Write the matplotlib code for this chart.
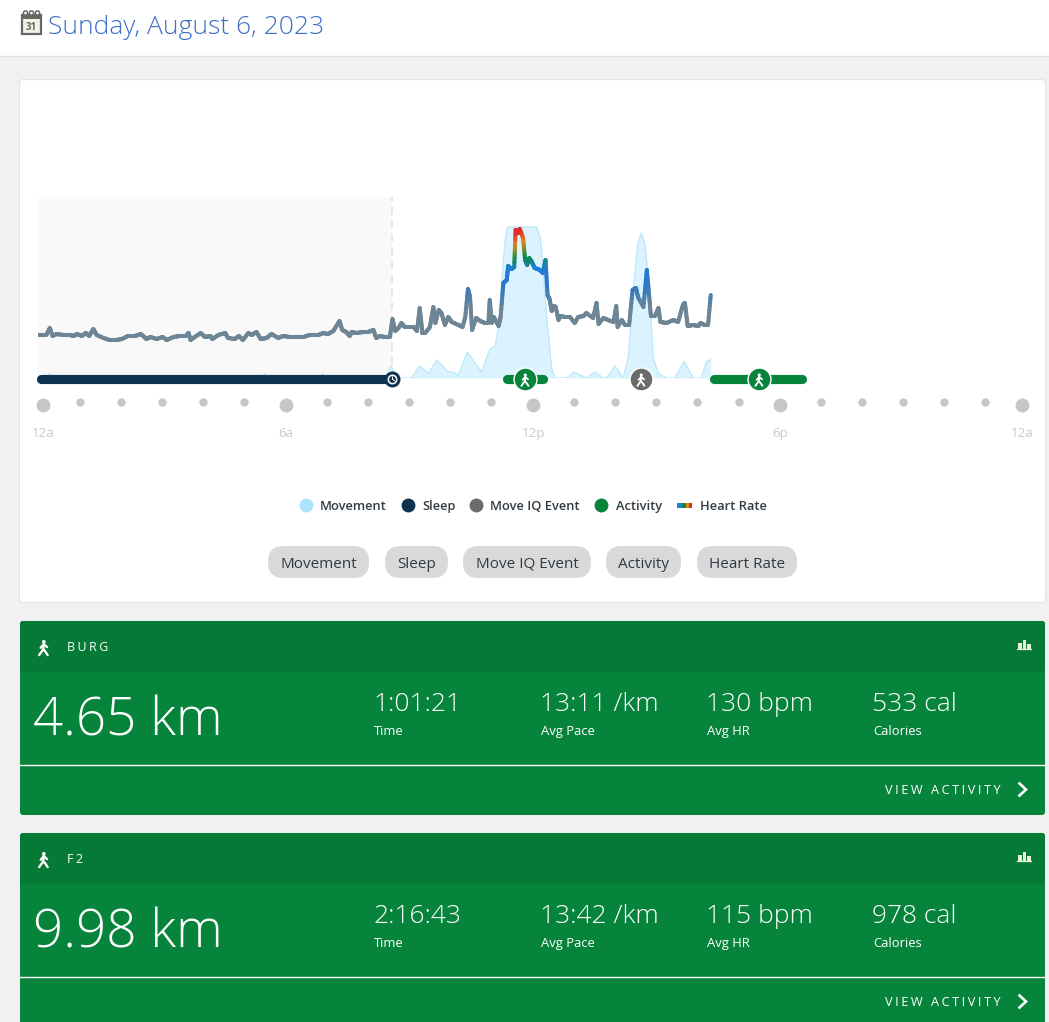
import numpy as np
import matplotlib
matplotlib.use("Agg")
import matplotlib.pyplot as plt
from matplotlib.collections import LineCollection
from matplotlib.colors import LinearSegmentedColormap, Normalize
from matplotlib.patches import FancyBboxPatch, Rectangle, Circle

plt.rcParams['font.family'] = ['Open Sans', 'DejaVu Sans']

# ---------- data ----------
# minutes after midnight and heart rate in bpm
hr_minutes = [-7,5,10,14,20,30,40,45,50,57,63,68,74,79,89,98,108,116,125,135,144,152,158,167,176,182,192,201,210,214,217,223,232,238,246,249,258,268,272,282,288,294,302,307,314,320,329,336,346,353,363,373,383,392,405,412,419,427,436,440,446,451,454,461,471,478,486,490,495,503,
              510,514,518,524,527,532,540,545,550,554,558,562,569,574,577,582,586,591,596,601,611,617,621,625,628,631,637,643,650,655,657,660,663,670,673,677,682,684,689,693,695,699,701,706,709,712,715,719,723,731,735,739,742,745,748,751,754,758,760,768,775,782,787,795,799,809,814,817,824,831,839,843,845,851,856,862,867,872,875,883,888,891,894,900,905,908,917,927,934,941,944,948,956,964,967,973,978,982]
hr_bpm = [59,59,66,58,60,59,59,58,60,58,61,58,65,59,56,54,54,55,58,58,60,55,57,55,57,54,57,58,58,61,54,57,61,57,58,55,59,61,56,55,58,54,61,59,62,55,56,60,56,58,57,57,57,59,59,61,60,63,73,64,62,58,62,61,62,62,64,56,58,57,
          57,75,63,67,71,67,67,67,63,86,61,61,67,87,71,84,81,69,77,72,69,67,77,105,97,64,76,73,71,71,94,71,77,68,77,111,114,128,125,127,164,161,165,156,134,129,136,132,126,124,121,134,99,95,83,88,87,74,78,77,77,71,77,78,81,76,91,70,76,74,72,88,67,74,69,69,104,106,97,87,124,101,78,78,86,72,71,74,72,89,91,68,69,68,71,69,69,99]

move_minutes = [-7,6,10,14,322,326,330,407,411,415,505,512,520,542,554,567,579,596,603,611,624,645,657,665,670,677,680,682,684,726,728,731,733,737,741,748,753,770,781,799,812,824,831,841,853,861,866,870,875,880,885,890,894,897,905,917,929,943,956,968,976,982]
move_pct = [0,0,3,0,0,3,0,0,3,0,0,8,0,0,8,3,12,4,4,2,17,4,19,21,34,78,92,98,100,100,97,93,85,62,39,6,0,0,4,0,4,0,1,8,0,14,45,67,89,96,89,67,40,14,3,0,0,11,0,0,11,12]

sleep_span = (-3, 513)
activity_spans = [(682, 735), (987, 1116)]
activity_icons = [709, 1053]
moveiq_minutes = [879]

tick_minutes = [0, 357, 721, 1084, 1440]
tick_labels = ['12a', '6a', '12p', '6p', '12a']
minor_minutes = [54,115,175,236,296,417,478,538,599,659,781,841,902,962,1023,1144,1204,1264,1325,1385]

legend_names = ['Movement', 'Sleep', 'Move IQ Event', 'Activity', 'Heart Rate']
legend_colors = ['#ade3fb', '#0e3350', '#6b6b6b', '#07843c', None]

activity_names = ['BURG', 'F2']
distances = ['4.65 km', '9.98 km']
times = ['1:01:21', '2:16:43']
paces = ['13:11 /km', '13:42 /km']
heart_rates = ['130 bpm', '115 bpm']
calories = ['533 cal', '978 cal']
stat_labels = ['Time', 'Avg Pace', 'Avg HR', 'Calories']

# ---------- figure / page ----------
W, H = 1049, 1022
fig = plt.figure(figsize=(W/100, H/100), dpi=100, facecolor='#f1f1f1')
page = fig.add_axes([0, 0, 1, 1], zorder=0)
page.set_xlim(0, W); page.set_ylim(H, 0); page.axis('off')

page.add_patch(Rectangle((0, 0), W, 56, fc='white', ec='none'))
page.plot([0, W], [56.5, 56.5], color='#e2e2e2', lw=1)
page.add_patch(FancyBboxPatch((19.5, 79.5), 1026, 523, boxstyle='round,pad=0,rounding_size=4',
                              fc='white', ec='#e4e4e4', lw=0.8))

def walker(ax, cx, cy, s, color, z=8):
    ax.add_patch(Circle((cx + 0.3*s, cy - 5.6*s), 1.7*s, fc=color, ec='none', zorder=z))
    kw = dict(color=color, lw=1.5*s, solid_capstyle='round', zorder=z)
    ax.plot([cx + 0.2*s, cx - 0.2*s], [cy - 3.5*s, cy + 1.2*s], **kw)
    ax.plot([cx - 0.2*s, cx - 4*s], [cy + 1.2*s, cy + 6.5*s], **kw)
    ax.plot([cx - 0.2*s, cx + 1.5*s, cx + 3.8*s], [cy + 1.2*s, cy + 3*s, cy + 6.5*s], **kw)
    ax.plot([cx - 2.6*s, cx + 0.2*s, cx + 3.3*s], [cy - 0.2*s, cy - 3.5*s, cy - 0.8*s], **kw)

# title with calendar icon
page.add_patch(Rectangle((22, 15), 18.5, 19, fc='#f4f1ea', ec='#6a6660', lw=1.6))
page.add_patch(Rectangle((22, 15), 18.5, 4.5, fc='#6a6660', ec='none'))
for cxi in (25.5, 31.5, 37.5):
    page.add_patch(Circle((cxi, 13), 2.1, fc='white', ec='#6a6660', lw=1.1))
page.text(31.2, 27, '31', fontsize=7, weight='bold', color='#6a6660', ha='center', va='center')
page.text(48, 33.5, 'Sunday, August 6, 2023', fontsize=19, weight='light', color='#3c6fc6',
          ha='left', va='baseline')

# ---------- chart ----------
PX_MIN = 0.68
x0, x1, y0, y1 = 38, 1040, 197, 378
chart_m = fig.add_axes([x0/W, 1 - y1/H, (x1 - x0)/W, (y1 - y0)/H], zorder=1)
chart_m.set_xlim((x0 - 43)/PX_MIN, (x1 - 43)/PX_MIN)
chart_m.set_ylim(0, (y1 - y0)/1.51)
chart_m.axis('off')
chart_m.axvspan(-7, sleep_span[1], color='#f9f9f9', lw=0, zorder=0)
chart_m.axvline(sleep_span[1], color='#e6e6e6', lw=1.4, ls=(0, (4, 3)), zorder=1)
chart_m.fill_between(move_minutes, move_pct, color='#dbf3fe', lw=0, zorder=2)
chart_m.plot(move_minutes, move_pct, color='#bde8fb', lw=1, zorder=3)

chart = fig.add_axes(chart_m.get_position(), zorder=2)
chart.patch.set_alpha(0)
chart.set_xlim(chart_m.get_xlim())
chart.set_ylim(394 - y1, 394 - y0)
for s in chart.spines.values():
    s.set_visible(False)
chart.set_yticks([])
chart.set_xticks(tick_minutes, tick_labels)
chart.tick_params(axis='x', length=0, pad=35, labelsize=9.6, labelcolor='#c9c9c9')

# heart-rate line, coloured by value
hr_cmap = LinearSegmentedColormap.from_list('hr', [
    (0.0, '#6d8594'), (0.30, '#6d8594'), (0.50, '#2a78c8'), (0.63, '#1f7ed8'), (0.72, '#0b8c45'),
    (0.84, '#e58a17'), (0.94, '#e0282a'), (1.0, '#e0282a')])
hx = np.asarray(hr_minutes, float); hy = np.asarray(hr_bpm, float)
# subdivide only so the colour blends along each steep stroke
fine = np.linspace(0, len(hx) - 1, (len(hx) - 1)*8 + 1)
fx = np.interp(fine, np.arange(len(hx)), hx)
fy = np.interp(fine, np.arange(len(hy)), hy)
segs = np.stack([np.c_[fx[:-1], fy[:-1]], np.c_[fx[1:], fy[1:]]], axis=1)
lc = LineCollection(segs, cmap=hr_cmap, norm=Normalize(50, 170), linewidths=2.9,
                    capstyle='round', zorder=4)
lc.set_array((fy[:-1] + fy[1:])/2)
chart.add_collection(lc)

# ticks as dots
BAR_Y = 15
chart.plot(tick_minutes, [394 - 405]*5, 'o', ms=10, color='#c6c6c6', mew=0, clip_on=False)
chart.plot(minor_minutes, [394 - 402]*len(minor_minutes), 'o', ms=6, color='#c6c6c6', mew=0, clip_on=False)

# sleep and activity bars
chart.plot(sleep_span, [BAR_Y, BAR_Y], color='#0e3350', lw=6.6, solid_capstyle='round', clip_on=False, zorder=5)
chart.plot([sleep_span[1]], [BAR_Y], 'o', ms=11.5, color='#0e3350', mew=0, clip_on=False, zorder=6)
for a, b in activity_spans:
    chart.plot([a, b], [BAR_Y, BAR_Y], color='#07843c', lw=6.6, solid_capstyle='round', clip_on=False, zorder=5)
for h in activity_icons:
    chart.plot([h], [BAR_Y], 'o', ms=16.5, color='#07843c', mec='white', mew=1, clip_on=False, zorder=6)
for h in moveiq_minutes:
    chart.plot([h], [BAR_Y], 'o', ms=16.5, color='#6b6b6b', mec='white', mew=1, clip_on=False, zorder=6)

# icons sitting on the markers (page overlay)
over = fig.add_axes([0, 0, 1, 1], zorder=3)
over.patch.set_alpha(0)
over.set_xlim(0, W); over.set_ylim(H, 0); over.axis('off')
walker(over, 525, 380, 0.9, 'white')
walker(over, 759, 380, 0.9, 'white')
walker(over, 641, 380, 0.9, 'white')
over.add_patch(Circle((392.5, 379.5), 4.2, fc='#0e3350', ec='white', lw=1.1, zorder=8))
over.plot([392.5, 392.5, 394.5], [377, 379.5, 380.5], color='white', lw=0.7, zorder=8)

# legend
leg_x = [306, 408, 476, 601, None]
text_x = [320, 422, 490, 616, 700]
for i, name in enumerate(legend_names):
    if legend_colors[i]:
        over.plot([leg_x[i]], [505], 'o', ms=10, color=legend_colors[i], mew=0)
    over.text(text_x[i], 510, name, fontsize=9.3, weight='semibold', color='#333b42', ha='left', va='baseline')
for xs, c in ((677, '#1f7ed8'), (682, '#0b8c45'), (686, '#e58a17'), (689, '#e0282a')):
    over.add_patch(Rectangle((xs, 503), 5 if xs < 689 else 3, 5, fc=c, ec='none'))

# filter pills
pill_x = [(268, 369), (385, 448), (463, 591), (606, 681), (697, 797)]
for (a, b), name in zip(pill_x, legend_names):
    over.add_patch(FancyBboxPatch((a, 546), b - a, 32, boxstyle='round,pad=0,rounding_size=15.5',
                                  fc='#d9d9d9', ec='none'))
    over.text((a + b)/2, 567.5, name, fontsize=11, color='#2f3a44', ha='center', va='baseline')

# ---------- activity cards ----------
def card(top, i):
    over.add_patch(FancyBboxPatch((20, top), 1025, 194, boxstyle='round,pad=0,rounding_size=3',
                                  fc='#07843c', ec='none', clip_on=True))
    over.add_patch(FancyBboxPatch((20, top), 1025, 50.5, boxstyle='round,pad=0,rounding_size=3',
                                  fc='#057a36', ec='none'))
    over.add_patch(Rectangle((20, top + 10), 1025, 40.5, fc='#057a36', ec='none'))
    walker(over, 43.5, top + 27, 1.1, 'white')
    over.text(67, top + 30, '\u200a\u200a'.join(activity_names[i]), fontsize=8.9, color='white', ha='left', va='baseline',
              weight='normal')
    for bx, bh in ((1018, 6), (1022.5, 9), (1027, 5)):
        over.add_patch(Rectangle((bx, top + 28 - bh), 3.5, bh, fc='#e9f1d8', ec='none'))
    over.plot([1017, 1031], [top + 28.5, top + 28.5], color='#e9f1d8', lw=0.9)
    over.text(33, top + 115, distances[i], fontsize=38.2, weight='light', color='white', ha='left', va='baseline')
    cols = [373.5, 540.5, 706.5, 872.5]
    vals = [times[i], paces[i], heart_rates[i], calories[i]]
    for cx, v, lab in zip(cols, vals, stat_labels):
        over.text(cx, top + 90, v, fontsize=19, weight='light', color='white', ha='left', va='baseline')
        over.text(cx + 0.5, top + 114, lab, fontsize=9.4, color='white', ha='left', va='baseline')
    over.plot([20, 1045], [top + 144, top + 144], color='white', lw=1)
    over.text(1001, top + 172.5, '\u200a\u200a'.join('VIEW ACTIVITY'), fontsize=9.2, color='white', ha='right', va='baseline')
    over.plot([1019.5, 1026, 1019.5], [top + 162.5, top + 168.5, top + 174.5], color='white', lw=1.9,
              solid_joinstyle='miter')

card(621, 0)
card(833, 1)

fig.savefig('out.png', dpi=100, facecolor=fig.get_facecolor())
